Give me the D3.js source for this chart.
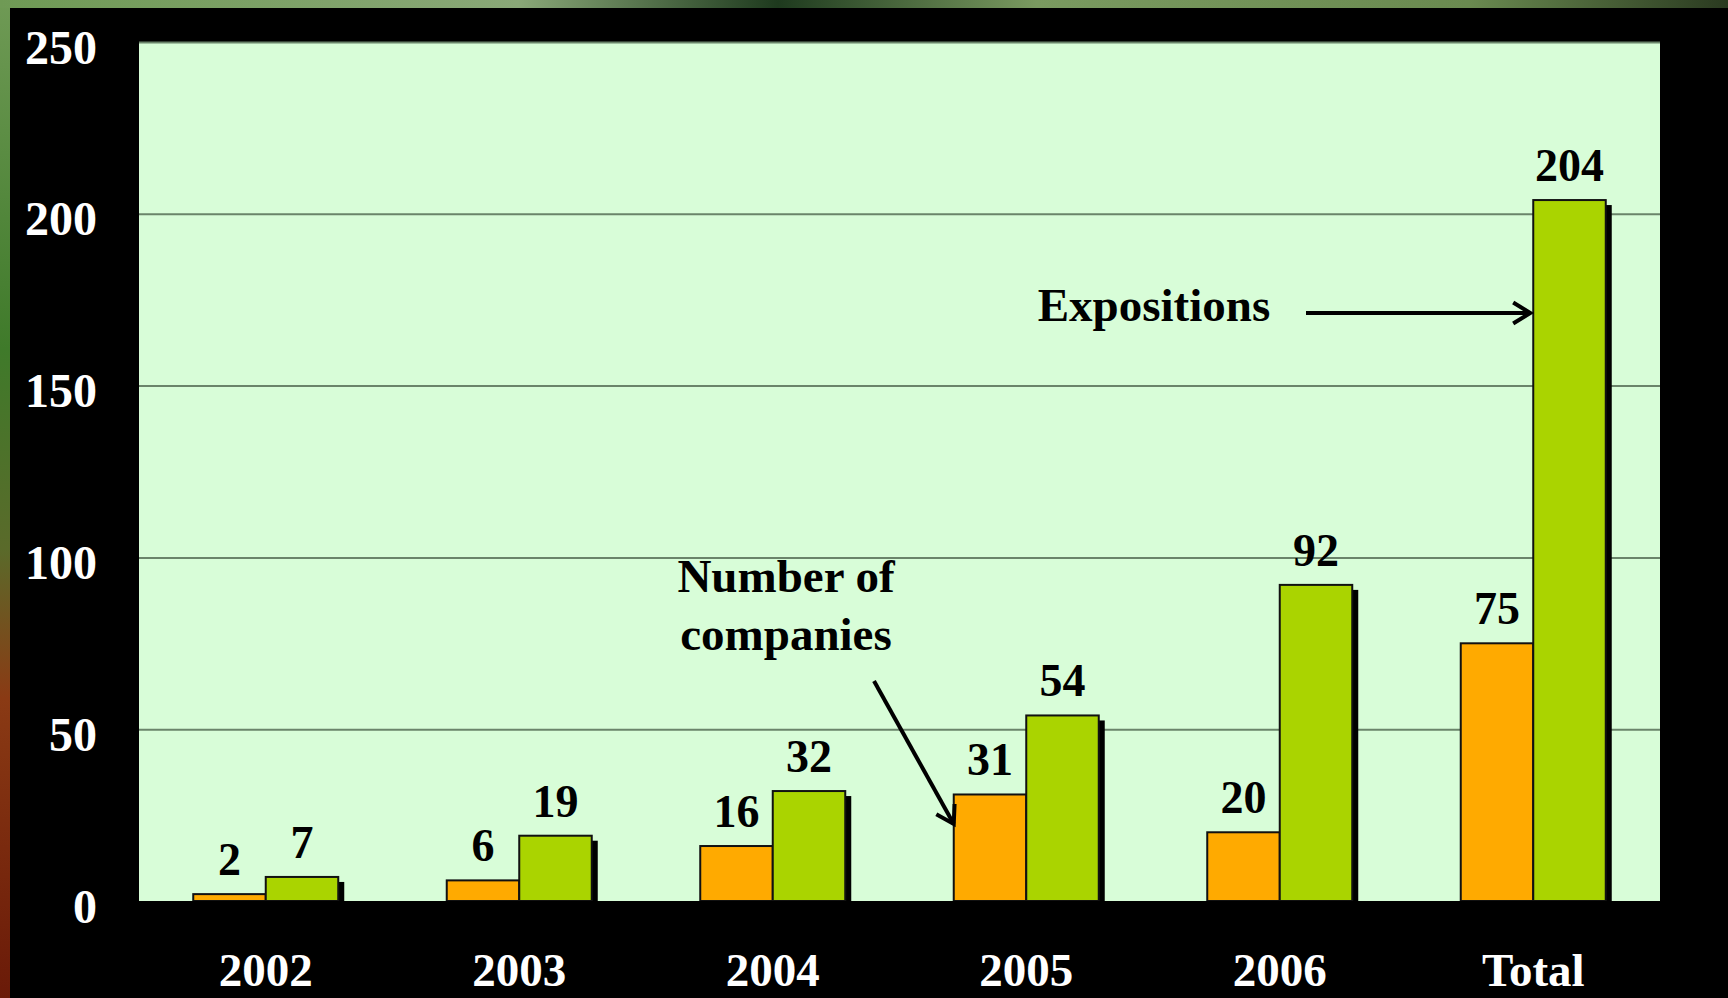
<!DOCTYPE html>
<html>
<head>
<meta charset="utf-8">
<script src="https://cdn.jsdelivr.net/npm/d3@7"></script>
<style>
  html, body { margin: 0; padding: 0; background: #000; overflow: hidden; }
  svg { display: block; }
</style>
</head>
<body>
<svg id="chart" width="1728" height="998"></svg>
<script>
// ---- data ----
const categories = ["2002", "2003", "2004", "2005", "2006", "Total"];
const companies  = [2, 6, 16, 31, 20, 75];
const expositions = [7, 19, 32, 54, 92, 204];
const seriesKeys = ["companies", "expositions"];
const yTicks = [0, 50, 100, 150, 200, 250];
const gridTicks = [50, 100, 150, 200, 250];

const W = 1728, H = 998;
const svg = d3.select("#chart");
const defs = svg.append("defs");

// background photo-like edges
const gV = defs.append("linearGradient").attr("id", "leftEdge").attr("x1", 0).attr("y1", 0).attr("x2", 0).attr("y2", 1);
gV.append("stop").attr("offset", "0").attr("stop-color", "#6f9a55");
gV.append("stop").attr("offset", "0.35").attr("stop-color", "#3f7a2a");
gV.append("stop").attr("offset", "0.55").attr("stop-color", "#5a6a2a");
gV.append("stop").attr("offset", "0.7").attr("stop-color", "#8a3a14");
gV.append("stop").attr("offset", "1").attr("stop-color", "#6a1a08");
const gH = defs.append("linearGradient").attr("id", "topEdge").attr("x1", 0).attr("y1", 0).attr("x2", 1).attr("y2", 0);
gH.append("stop").attr("offset", "0").attr("stop-color", "#6f9a55");
gH.append("stop").attr("offset", "0.3").attr("stop-color", "#8aa878");
gH.append("stop").attr("offset", "0.45").attr("stop-color", "#1e3a1e");
gH.append("stop").attr("offset", "0.6").attr("stop-color", "#7a9a60");
gH.append("stop").attr("offset", "0.85").attr("stop-color", "#6a8a50");
gH.append("stop").attr("offset", "1").attr("stop-color", "#2a3a20");

svg.append("rect").attr("x", 0).attr("y", 0).attr("width", 10).attr("height", H).attr("fill", "url(#leftEdge)");
svg.append("rect").attr("x", 0).attr("y", 0).attr("width", W).attr("height", 8).attr("fill", "url(#topEdge)");
svg.append("rect").attr("x", 10).attr("y", 8).attr("width", W - 10).attr("height", H - 8).attr("fill", "#000");

// ---- plot area ----
const plot = { left: 139, right: 1660, top: 42, bottom: 901 };
const pw = plot.right - plot.left, ph = plot.bottom - plot.top;

const x = d3.scaleBand().domain(categories).range([plot.left, plot.right])
  .paddingInner(0.428).paddingOuter(0.214);
const xs = d3.scaleBand().domain(seriesKeys).range([0, x.bandwidth()]).padding(0);
const y = d3.scaleLinear().domain([0, 250]).range([plot.bottom, plot.top]);

const colors = { companies: "#ffaa00", expositions: "#aad400" };
const serif = "'Liberation Serif', 'Times New Roman', serif";

svg.append("rect").attr("x", plot.left).attr("y", plot.top).attr("width", pw).attr("height", ph)
  .attr("fill", "#d8fdd8");

// gridlines
const grid = svg.append("g").attr("transform", `translate(${plot.left},0)`)
  .call(d3.axisLeft(y).tickValues(gridTicks).tickSize(-pw).tickFormat(""));
grid.select(".domain").remove();
grid.selectAll(".tick line").attr("stroke", "#6a846a").attr("stroke-width", 2);

// bars
const rows = categories.map((c, i) => ({ cat: c, values: [
  { key: "companies", value: companies[i] },
  { key: "expositions", value: expositions[i] }
]}));

const groups = svg.append("g").selectAll("g").data(rows).join("g")
  .attr("transform", d => `translate(${x(d.cat)},0)`);

// shadows
groups.selectAll("rect.shadow").data(d => d.values).join("rect").attr("class", "shadow")
  .attr("x", d => xs(d.key) + 6).attr("y", d => y(d.value) + 5)
  .attr("width", xs.bandwidth()).attr("height", d => Math.max(0, y(0) - y(d.value) - 5))
  .attr("fill", "#000");

groups.selectAll("rect.bar").data(d => d.values).join("rect").attr("class", "bar")
  .attr("x", d => xs(d.key)).attr("y", d => y(d.value))
  .attr("width", xs.bandwidth()).attr("height", d => y(0) - y(d.value))
  .attr("fill", d => colors[d.key]).attr("stroke", "#111").attr("stroke-width", 2);

// value labels
groups.selectAll("text.val").data(d => d.values).join("text").attr("class", "val")
  .attr("x", d => xs(d.key) + xs.bandwidth() / 2).attr("y", d => y(d.value) - 19)
  .attr("text-anchor", "middle").attr("font-family", serif).attr("font-weight", "bold")
  .attr("font-size", 46).attr("fill", "#000").text(d => d.value);

// bottom black band over plot below baseline
svg.append("rect").attr("x", plot.left - 2).attr("y", plot.bottom).attr("width", pw + 4).attr("height", 3).attr("fill", "#000");

// y axis
const yAxis = svg.append("g").attr("transform", `translate(${plot.left},0)`)
  .call(d3.axisLeft(y).tickValues(yTicks).tickSize(0).tickPadding(42));
yAxis.select(".domain").remove();
yAxis.selectAll("text").attr("font-family", serif).attr("font-weight", "bold")
  .attr("font-size", 48).attr("fill", "#fff").attr("dy", "0.44em");

// x axis
const xAxis = svg.append("g").attr("transform", `translate(0,${plot.bottom})`)
  .call(d3.axisBottom(x).tickSize(0).tickPadding(0));
xAxis.select(".domain").remove();
xAxis.selectAll("text").attr("font-family", serif).attr("font-weight", "bold")
  .attr("font-size", 47).attr("fill", "#fff").attr("dy", null).attr("y", 85);

// ---- annotations ----
const ann = svg.append("g");
function arrow(x1, y1, x2, y2) {
  ann.append("line").attr("x1", x1).attr("y1", y1).attr("x2", x2).attr("y2", y2)
    .attr("stroke", "#000").attr("stroke-width", 4);
  const a = Math.atan2(y2 - y1, x2 - x1), L = 20, s = 0.55;
  const p = [
    [x2 - L * Math.cos(a - s), y2 - L * Math.sin(a - s)],
    [x2, y2],
    [x2 - L * Math.cos(a + s), y2 - L * Math.sin(a + s)]
  ];
  ann.append("path").attr("d", d3.line()(p)).attr("fill", "none").attr("stroke", "#000")
    .attr("stroke-width", 4).attr("stroke-linejoin", "miter");
}

const totX = x("Total") + xs("expositions");
ann.append("text").attr("x", 1154).attr("y", 321).attr("text-anchor", "middle")
  .attr("font-family", serif).attr("font-weight", "bold").attr("font-size", 47).attr("fill", "#000")
  .text("Expositions");
arrow(1306, 313, totX - 3, 313);

const c05 = x("2005") + xs("companies");
const t1 = ann.append("text").attr("text-anchor", "middle")
  .attr("font-family", serif).attr("font-weight", "bold").attr("font-size", 47).attr("fill", "#000");
t1.append("tspan").attr("x", 786).attr("y", 592).text("Number of");
t1.append("tspan").attr("x", 786).attr("y", 650).text("companies");
arrow(874, 681, c05, 824);
</script>
</body>
</html>
